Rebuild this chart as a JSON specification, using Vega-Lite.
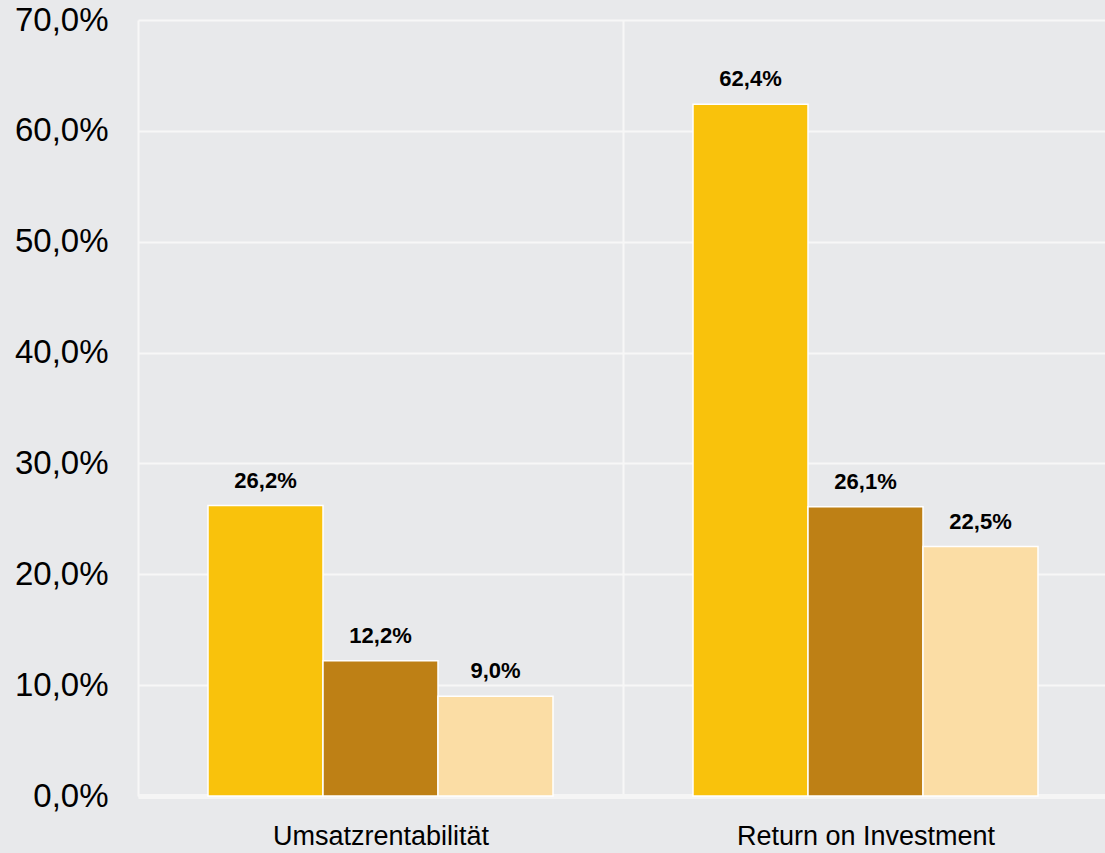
{
  "$schema": "https://vega.github.io/schema/vega-lite/v6.json",
  "width": 970,
  "height": 776,
  "autosize": "none",
  "padding": {"left": 138, "top": 20, "right": 0, "bottom": 57},
  "background": "#e8e9eb",
  "config": {
    "view": {"stroke": null},
    "locale": {"number": {"decimal": ",", "thousands": ".", "grouping": [3], "currency": ["", " €"]}},
    "font": "Liberation Sans"
  },
  "data": {
    "values": [
      {"kategorie": "Umsatzrentabilität", "serie": "Serie 1", "wert": 0.262},
      {"kategorie": "Umsatzrentabilität", "serie": "Serie 2", "wert": 0.122},
      {"kategorie": "Umsatzrentabilität", "serie": "Serie 3", "wert": 0.090},
      {"kategorie": "Return on Investment", "serie": "Serie 1", "wert": 0.624},
      {"kategorie": "Return on Investment", "serie": "Serie 2", "wert": 0.261},
      {"kategorie": "Return on Investment", "serie": "Serie 3", "wert": 0.225}
    ]
  },
  "encoding": {
    "x": {
      "field": "kategorie",
      "type": "nominal",
      "sort": null,
      "title": null,
      "scale": {"paddingInner": 0, "paddingOuter": 0},
      "axis": {
        "labelAngle": 0,
        "labelFontSize": 27,
        "labelColor": "#000000",
        "labelPadding": 27,
        "labelLimit": 0,
        "ticks": false,
        "tickBand": "extent",
        "grid": true,
        "gridColor": "#f7f7f7",
        "gridWidth": 2,
        "domain": true,
        "domainColor": "#f5f5f5",
        "domainWidth": 5
      }
    },
    "xOffset": {
      "field": "serie",
      "type": "nominal",
      "sort": null,
      "scale": {"paddingInner": 0, "paddingOuter": 0.6087}
    },
    "y": {
      "field": "wert",
      "type": "quantitative",
      "title": null,
      "scale": {"domain": [0, 0.7], "nice": false},
      "axis": {
        "values": [0, 0.1, 0.2, 0.3, 0.4, 0.5, 0.6, 0.7],
        "format": ".1%",
        "labelFontSize": 33,
        "labelColor": "#000000",
        "labelPadding": 30,
        "labelLimit": 0,
        "ticks": false,
        "domain": false,
        "grid": true,
        "gridColor": "#f7f7f7",
        "gridWidth": 2
      }
    }
  },
  "layer": [
    {
      "mark": {"type": "bar", "stroke": "#ffffff", "strokeWidth": 1.5},
      "encoding": {
        "color": {
          "field": "serie",
          "type": "nominal",
          "legend": null,
          "scale": {"domain": ["Serie 1", "Serie 2", "Serie 3"], "range": ["#f9c20c", "#be8015", "#fbdda5"]}
        }
      }
    },
    {
      "mark": {"type": "text", "fontWeight": "bold", "fontSize": 22, "color": "#000000", "baseline": "alphabetic", "dy": -18},
      "encoding": {
        "text": {"field": "wert", "type": "quantitative", "format": ".1%"}
      }
    }
  ]
}
